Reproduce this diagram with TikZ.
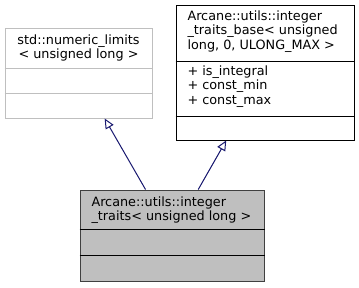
\documentclass[tikz,border=0pt]{standalone}
\usepackage{fontspec}
\setmainfont{DejaVu Sans}
\usetikzlibrary{arrows.meta}
\definecolor{edgeblue}{HTML}{191970}
\definecolor{boxgrey}{HTML}{BFBFBF}
\definecolor{lightedge}{HTML}{BFBFBF}

\begin{document}
\begin{tikzpicture}[x=1pt,y=-1pt,line width=1pt,
    font=\fontsize{12.8}{14.5}\selectfont,
    cls/.style={draw=black,rectangle,inner sep=0pt},
    label/.style={inner sep=0pt,align=left,anchor=north west},
    inherit/.style={draw=edgeblue,-{Triangle[open,length=10pt,width=9pt]}}]
    \fill[white] (0,0) rectangle (359,287);
    % class boxes
    \node[cls,draw=lightedge,minimum width=147pt,minimum height=90pt] (limits) at (78.5,73) {};
    \node[cls,minimum width=178pt,minimum height=135pt] (base) at (265,72.5) {};
    \node[cls,draw=black!75,fill=boxgrey,minimum width=184pt,minimum height=91pt] (traits) at (172,235.5) {};
    % compartments
    \draw[lightedge] (limits.west |- 0,68) -- (limits.east |- 0,68);
    \draw[lightedge] (limits.west |- 0,93) -- (limits.east |- 0,93);
    \draw (base.west |- 0,61) -- (base.east |- 0,61);
    \draw (base.west |- 0,116) -- (base.east |- 0,116);
    \draw (traits.west |- 0,229) -- (traits.east |- 0,229);
    \draw (traits.west |- 0,255) -- (traits.east |- 0,255);
    % texts
    \node[inner sep=0pt,align=center] (limitsname) at (78.5,48) {std::numeric\_limits\\< unsigned long >};
    \node[label] (basename) at (187,10) {Arcane::utils::integer\\\_traits\_base< unsigned\\ long, 0, ULONG\_MAX >};
    \node[label] (baseattr) at (187,65) {+ is\_integral\\+ const\_min\\+ const\_max};
    \node[label] (traitsname) at (91,196) {Arcane::utils::integer\\\_traits< unsigned long >};
    % inheritance
    \draw[inherit] (traits) -- (limits);
    \draw[inherit] (traits) -- (base);
\end{tikzpicture}
\end{document}
